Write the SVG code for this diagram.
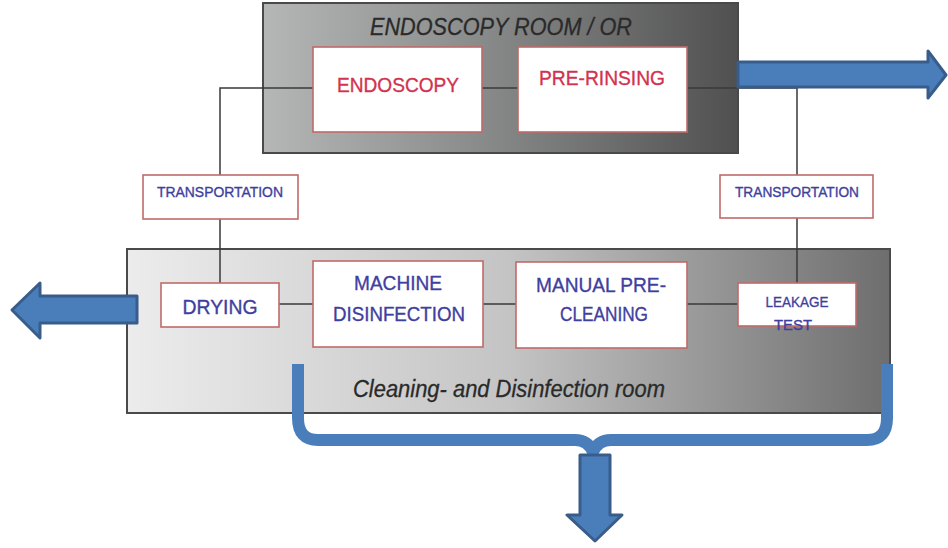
<svg xmlns="http://www.w3.org/2000/svg" width="948" height="548" viewBox="0 0 948 548">
  <defs>
    <linearGradient id="gradOr" x1="0" y1="0" x2="1" y2="0">
      <stop offset="0" stop-color="#b4b7b5"/>
      <stop offset="0.45" stop-color="#8a8c8b"/>
      <stop offset="1" stop-color="#505050"/>
    </linearGradient>
    <linearGradient id="gradClean" x1="0" y1="0" x2="1" y2="0">
      <stop offset="0" stop-color="#ececec"/>
      <stop offset="0.5" stop-color="#c4c4c4"/>
      <stop offset="1" stop-color="#6e6e6e"/>
    </linearGradient>
    <style>
      .room { stroke: #4a4a4a; stroke-width: 2; }
      .box { fill: #ffffff; stroke: #c06a6a; stroke-width: 1.6; }
      .wire { fill: none; stroke: #3a3a3a; stroke-width: 1.5; }
      .red { fill: #d2324f; stroke: #d2324f; stroke-width: 0.35; font-family: "Liberation Sans", Arial, sans-serif; text-anchor: middle; }
      .blue { fill: #3f3fa0; stroke: #3f3fa0; stroke-width: 0.35; font-family: "Liberation Sans", Arial, sans-serif; text-anchor: middle; }
      .title { fill: #2a2a2a; stroke: #2a2a2a; stroke-width: 0.3; font-family: "Liberation Sans", Arial, sans-serif; font-style: italic; text-anchor: middle; }
      .arrow { fill: #4a7ebb; stroke: #385d8a; stroke-width: 3; stroke-linejoin: round; }
      .brace { fill: none; stroke: #4a7ebb; stroke-width: 12; stroke-linejoin: round; }
    </style>
  </defs>

  <!-- rooms -->
  <g id="room-or">
    <rect class="room" x="263" y="3" width="475" height="150" fill="url(#gradOr)"/>
    <text class="title" x="501" y="35" font-size="24" textLength="262" lengthAdjust="spacingAndGlyphs">ENDOSCOPY ROOM / OR</text>
  </g>
  <g id="room-cleaning">
    <rect class="room" x="127" y="249" width="763" height="164" fill="url(#gradClean)"/>
    <text class="title" x="509" y="397" font-size="23" textLength="312" lengthAdjust="spacingAndGlyphs">Cleaning- and Disinfection room</text>
  </g>

  <!-- connectors -->
  <g id="connectors">
    <path class="wire" d="M313 88 H220 V175 M220 219 V283"/>
    <path class="wire" d="M482 88 H518"/>
    <path class="wire" d="M687 88 H797 V175 M797 218 V283"/>
    <path class="wire" d="M279 304 H313 M483 304 H516 M687 304 H738"/>
  </g>

  <!-- process steps -->
  <g id="endoscopy">
    <rect class="box" x="313" y="47" width="169" height="85"/>
    <text class="red" x="398" y="92" font-size="21" textLength="122" lengthAdjust="spacingAndGlyphs">ENDOSCOPY</text>
  </g>
  <g id="pre-rinsing">
    <rect class="box" x="518" y="47" width="169" height="85"/>
    <text class="red" x="602" y="85" font-size="21" textLength="126" lengthAdjust="spacingAndGlyphs">PRE-RINSING</text>
  </g>
  <g id="transport-left">
    <rect class="box" x="143" y="175" width="155" height="44"/>
    <text class="blue" x="220" y="197" font-size="14" textLength="126" lengthAdjust="spacingAndGlyphs">TRANSPORTATION</text>
  </g>
  <g id="transport-right">
    <rect class="box" x="720" y="175" width="153" height="43"/>
    <text class="blue" x="797" y="197" font-size="14" textLength="124" lengthAdjust="spacingAndGlyphs">TRANSPORTATION</text>
  </g>
  <g id="drying">
    <rect class="box" x="161" y="283" width="118" height="44"/>
    <text class="blue" x="220" y="314" font-size="20" textLength="75" lengthAdjust="spacingAndGlyphs">DRYING</text>
  </g>
  <g id="machine-disinfection">
    <rect class="box" x="313" y="261" width="170" height="86"/>
    <text class="blue" x="398" y="290" font-size="20" textLength="88" lengthAdjust="spacingAndGlyphs">MACHINE</text>
    <text class="blue" x="399" y="321" font-size="20" textLength="132" lengthAdjust="spacingAndGlyphs">DISINFECTION</text>
  </g>
  <g id="manual-pre-cleaning">
    <rect class="box" x="516" y="262" width="171" height="86"/>
    <text class="blue" x="601" y="292" font-size="20" textLength="130" lengthAdjust="spacingAndGlyphs">MANUAL PRE-</text>
    <text class="blue" x="604" y="321" font-size="20" textLength="88" lengthAdjust="spacingAndGlyphs">CLEANING</text>
  </g>
  <g id="leakage-test">
    <rect class="box" x="738" y="283" width="118" height="43"/>
    <text class="blue" x="797" y="307" font-size="15" textLength="63" lengthAdjust="spacingAndGlyphs">LEAKAGE</text>
    <text class="blue" x="793" y="330" font-size="15" textLength="38" lengthAdjust="spacingAndGlyphs">TEST</text>
  </g>

  <!-- block arrows -->
  <g id="arrow-right">
    <path class="arrow" d="M738 62 H928 V51 L946 75 L928 98 V87 H738 Z"/>
  </g>
  <g id="arrow-left">
    <path class="arrow" d="M137 296 H40 V283 L12 310 L40 338 V323 H137 Z"/>
  </g>
  <g id="brace-down">
    <path class="brace" d="M298 364 V418 Q298 440 318 440 H575 Q588 440 593 452 Q598 440 611 440 H867 Q887 440 887 418 V364"/>
    <path class="arrow" d="M580 455 H610 V515 H622 L595 541 L567 515 H580 Z"/>
  </g>
</svg>
